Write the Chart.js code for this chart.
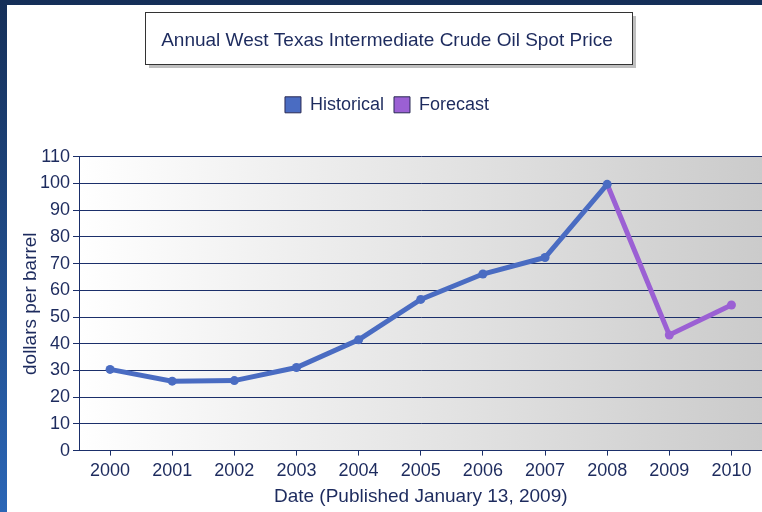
<!DOCTYPE html>
<html lang="en">
<head>
    <meta charset="UTF-8">
    <title>Annual West Texas Intermediate Crude Oil Spot Price</title>
    <style>
        * {
            margin: 0;
            padding: 0;
            box-sizing: border-box;
        }

        html, body {
            width: 762px;
            height: 512px;
            overflow: hidden;
        }

        body {
            background: linear-gradient(to bottom, #152f58, #2b66b6);
            position: relative;
        }

        .chart-box {
            position: absolute;
            left: 7px;
            top: 5px;
            width: 760px;
            height: 507px;
            background: #fff;
        }
    </style>
</head>
<body>
    <div class="chart-box">
        <canvas id="oilChart" width="760" height="507"></canvas>
    </div>

    <script src="https://cdn.jsdelivr.net/npm/chart.js"></script>
    <script>
        // data
        var years = ['2000', '2001', '2002', '2003', '2004', '2005', '2006', '2007', '2008', '2009', '2010'];
        var historical = [30.4, 26.0, 26.2, 31.1, 41.5, 56.6, 66.1, 72.3, 99.7, null, null];
        var forecast = [null, null, null, null, null, null, null, null, 99.7, 43.3, 54.5];
        var yTicks = [0, 10, 20, 30, 40, 50, 60, 70, 80, 90, 100, 110];

        var navy = '#1d2b5e';
        var gridNavy = '#1b2f6a';
        var blue = '#4a6cc2';
        var purple = '#9b60d4';
        var font = "'Liberation Sans', Arial, sans-serif";

        // title box and plot gradient
        var decorPlugin = {
            id: 'decor',
            beforeInit: function (chart) {
                var fit = chart.legend.fit;
                chart.legend.fit = function () {
                    fit.bind(chart.legend)();
                    this.height += 33;
                };
            },
            beforeDraw: function (chart) {
                var c = chart.ctx;
                var a = chart.chartArea;
                c.save();
                // title box with shadow
                var bx = 138, by = 7, bw = 487, bh = 52;
                c.fillStyle = 'rgba(0,0,0,0.25)';
                c.fillRect(bx + 4, by + 4, bw, bh);
                c.fillStyle = '#fff';
                c.fillRect(bx, by, bw, bh);
                c.strokeStyle = '#333';
                c.lineWidth = 1;
                c.strokeRect(bx + 0.5, by + 0.5, bw, bh);
                // plot background
                var g = c.createLinearGradient(a.left, 0, a.right, 0);
                g.addColorStop(0, '#ffffff');
                g.addColorStop(1, '#cbcbcb');
                c.fillStyle = g;
                c.fillRect(a.left, a.top, a.right - a.left, a.bottom - a.top);
                c.restore();
            }
        };

        var ctx = document.getElementById('oilChart').getContext('2d');
        var oilChart = new Chart(ctx, {
            type: 'line',
            data: {
                labels: years,
                datasets: [{
                    label: 'Historical',
                    data: historical,
                    borderColor: blue,
                    backgroundColor: blue,
                    borderWidth: 5,
                    pointRadius: 4.5,
                    pointBackgroundColor: blue,
                    pointBorderWidth: 0,
                    tension: 0
                }, {
                    label: 'Forecast',
                    data: forecast,
                    borderColor: purple,
                    backgroundColor: purple,
                    borderWidth: 5,
                    pointRadius: function (c) { return c.dataIndex === 8 ? 0 : 4.5; },
                    pointBackgroundColor: purple,
                    pointBorderWidth: 0,
                    tension: 0
                }]
            },
            options: {
                responsive: false,
                animation: false,
                layout: {
                    padding: { left: 0, right: 0, top: 0, bottom: 0 }
                },
                plugins: {
                    title: {
                        display: true,
                        text: 'Annual West Texas Intermediate Crude Oil Spot Price',
                        color: navy,
                        font: { family: font, size: 19, weight: 'normal' },
                        padding: { top: 24, bottom: 34 }
                    },
                    legend: {
                        display: true,
                        labels: {
                            color: navy,
                            font: { family: font, size: 18 },
                            boxWidth: 16,
                            boxHeight: 16,
                            padding: 10,
                            generateLabels: function (chart) {
                                var items = Chart.defaults.plugins.legend.labels.generateLabels(chart);
                                items.forEach(function (it) {
                                    it.lineWidth = 1;
                                    it.strokeStyle = '#2a2a55';
                                });
                                return items;
                            }
                        }
                    },
                    tooltip: { enabled: false }
                },
                scales: {
                    x: {
                        offset: true,
                        grid: {
                            display: true,
                            drawOnChartArea: false,
                            color: gridNavy,
                            tickLength: 5,
                            offset: false
                        },
                        border: { color: gridNavy, width: 1 },
                        ticks: {
                            color: navy,
                            font: { family: font, size: 18 },
                            padding: 5,
                            maxRotation: 0
                        },
                        title: {
                            display: true,
                            text: 'Date (Published January 13, 2009)',
                            color: navy,
                            font: { family: font, size: 19 },
                            padding: { top: -2, bottom: 4 }
                        }
                    },
                    y: {
                        min: 0,
                        max: 110,
                        afterFit: function (scale) { scale.width = 72; },
                        afterBuildTicks: function (scale) {
                            scale.ticks = yTicks.map(function (v) { return { value: v }; });
                        },
                        grid: {
                            color: gridNavy,
                            tickLength: 6,
                            lineWidth: 1
                        },
                        border: { color: gridNavy, width: 1 },
                        ticks: {
                            color: navy,
                            font: { family: font, size: 18 },
                            padding: 3
                        },
                        title: {
                            display: true,
                            text: 'dollars per barrel',
                            color: navy,
                            font: { family: font, size: 19 },
                            padding: { top: 12, bottom: 4 }
                        }
                    }
                }
            },
            plugins: [decorPlugin]
        });
    </script>
</body>
</html>
